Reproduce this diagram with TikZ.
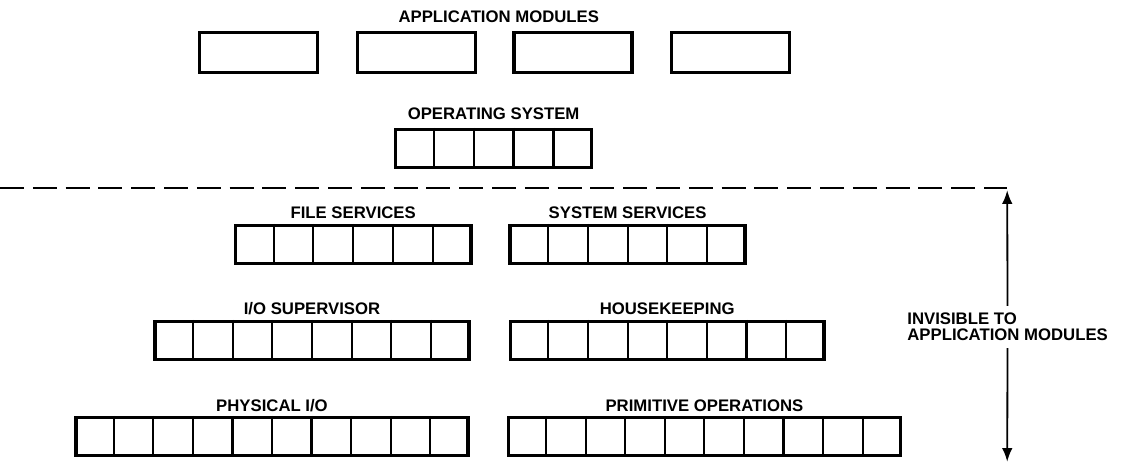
\documentclass[tikz,border=0pt]{standalone}
\usepackage{fontspec}
\setmainfont{Liberation Sans}
\usetikzlibrary{positioning,calc,arrows.meta}

\newcommand{\diagfont}{\fontsize{11.9}{11.7}\selectfont\bfseries}
% split a layer box into #2 equal cells
\newcommand{\cellrow}[2]{%
    \pgfmathtruncatemacro{\lastcut}{#2-1}%
    \foreach \k in {1,...,\lastcut}
        \draw[cellline] ($(#1.north west)!{\k/#2}!(#1.north east)$) -- ($(#1.south west)!{\k/#2}!(#1.south east)$);
}

\begin{document}
\begin{tikzpicture}[
    layer/.style={rectangle, draw, line width=2.5pt, inner sep=0pt, minimum width=#1*0.98cm, minimum height=0.95cm},
    appbox/.style={rectangle, draw, line width=2.5pt, inner sep=0pt, minimum width=2.95cm, minimum height=1cm},
    title/.style={font=\diagfont, inner sep=0pt, text depth=0pt},
    note/.style={font=\diagfont, align=left, inner sep=0.17cm},
    cellline/.style={line width=1.5pt},
    divider/.style={line width=1.3pt, dash pattern=on 0.6cm off 0.22cm},
    arrow/.style={-{Latex[length=0.34cm,width=0.26cm]}, line width=1.3pt}
]
    \useasboundingbox (0,0) rectangle (28.1,11.575);

    % Application level
    \node[title, anchor=base] (apptitle) at (12.47,11.0) {APPLICATION MODULES};
    \node[appbox] (app1) at (6.46,10.26) {};
    \node[appbox] (app2) at (10.41,10.26) {};
    \node[appbox] (app3) at (14.33,10.26) {};
    \node[appbox] (app4) at (18.26,10.26) {};

    % Operating system
    \node[layer=5] (os) at (12.34,7.86) {};
    \node[title, above=0.2cm of os] (ostitle) {OPERATING SYSTEM};
    \cellrow{os}{5}

    % Boundary
    \coordinate (sepL) at (0,6.87);
    \coordinate (sepR) at (25.18,6.87);
    \draw[divider] (sepL) -- (sepR);

    % Services
    \node[layer=6] (files) at (8.83,5.46) {};
    \node[layer=6] (syssvc) at (15.69,5.46) {};
    \node[title, above=0.13cm of files] (filestitle) {FILE SERVICES};
    \node[title, above=0.13cm of syssvc] (syssvctitle) {SYSTEM SERVICES};
    \cellrow{files}{6}
    \cellrow{syssvc}{6}

    % Supervisor level
    \node[layer=8] (iosup) at (7.8,3.06) {};
    \node[layer=8] (house) at (16.68,3.06) {};
    \node[title, above=0.13cm of iosup] (iosuptitle) {I/O SUPERVISOR};
    \node[title, above=0.13cm of house] (housetitle) {HOUSEKEEPING};
    \cellrow{iosup}{8}
    \cellrow{house}{8}

    % Bottom level
    \node[layer=10] (phys) at (6.8,0.66) {};
    \node[layer=10] (prim) at (17.61,0.66) {};
    \node[title, above=0.11cm of phys] (physTitle) {PHYSICAL I/O};
    \node[title, above=0.11cm of prim] (primtitle) {PRIMITIVE OPERATIONS};
    \cellrow{phys}{10}
    \cellrow{prim}{10}

    % Invisible range
    \coordinate (uptip) at (25.18,6.82);
    \coordinate (downtip) at (25.18,0.03);
    \node[note] (hidden) at (25.19,3.4) {INVISIBLE TO\\APPLICATION MODULES};
    \draw[arrow] (hidden) -- (uptip);
    \draw[arrow] (hidden) -- (downtip);
\end{tikzpicture}
\end{document}
